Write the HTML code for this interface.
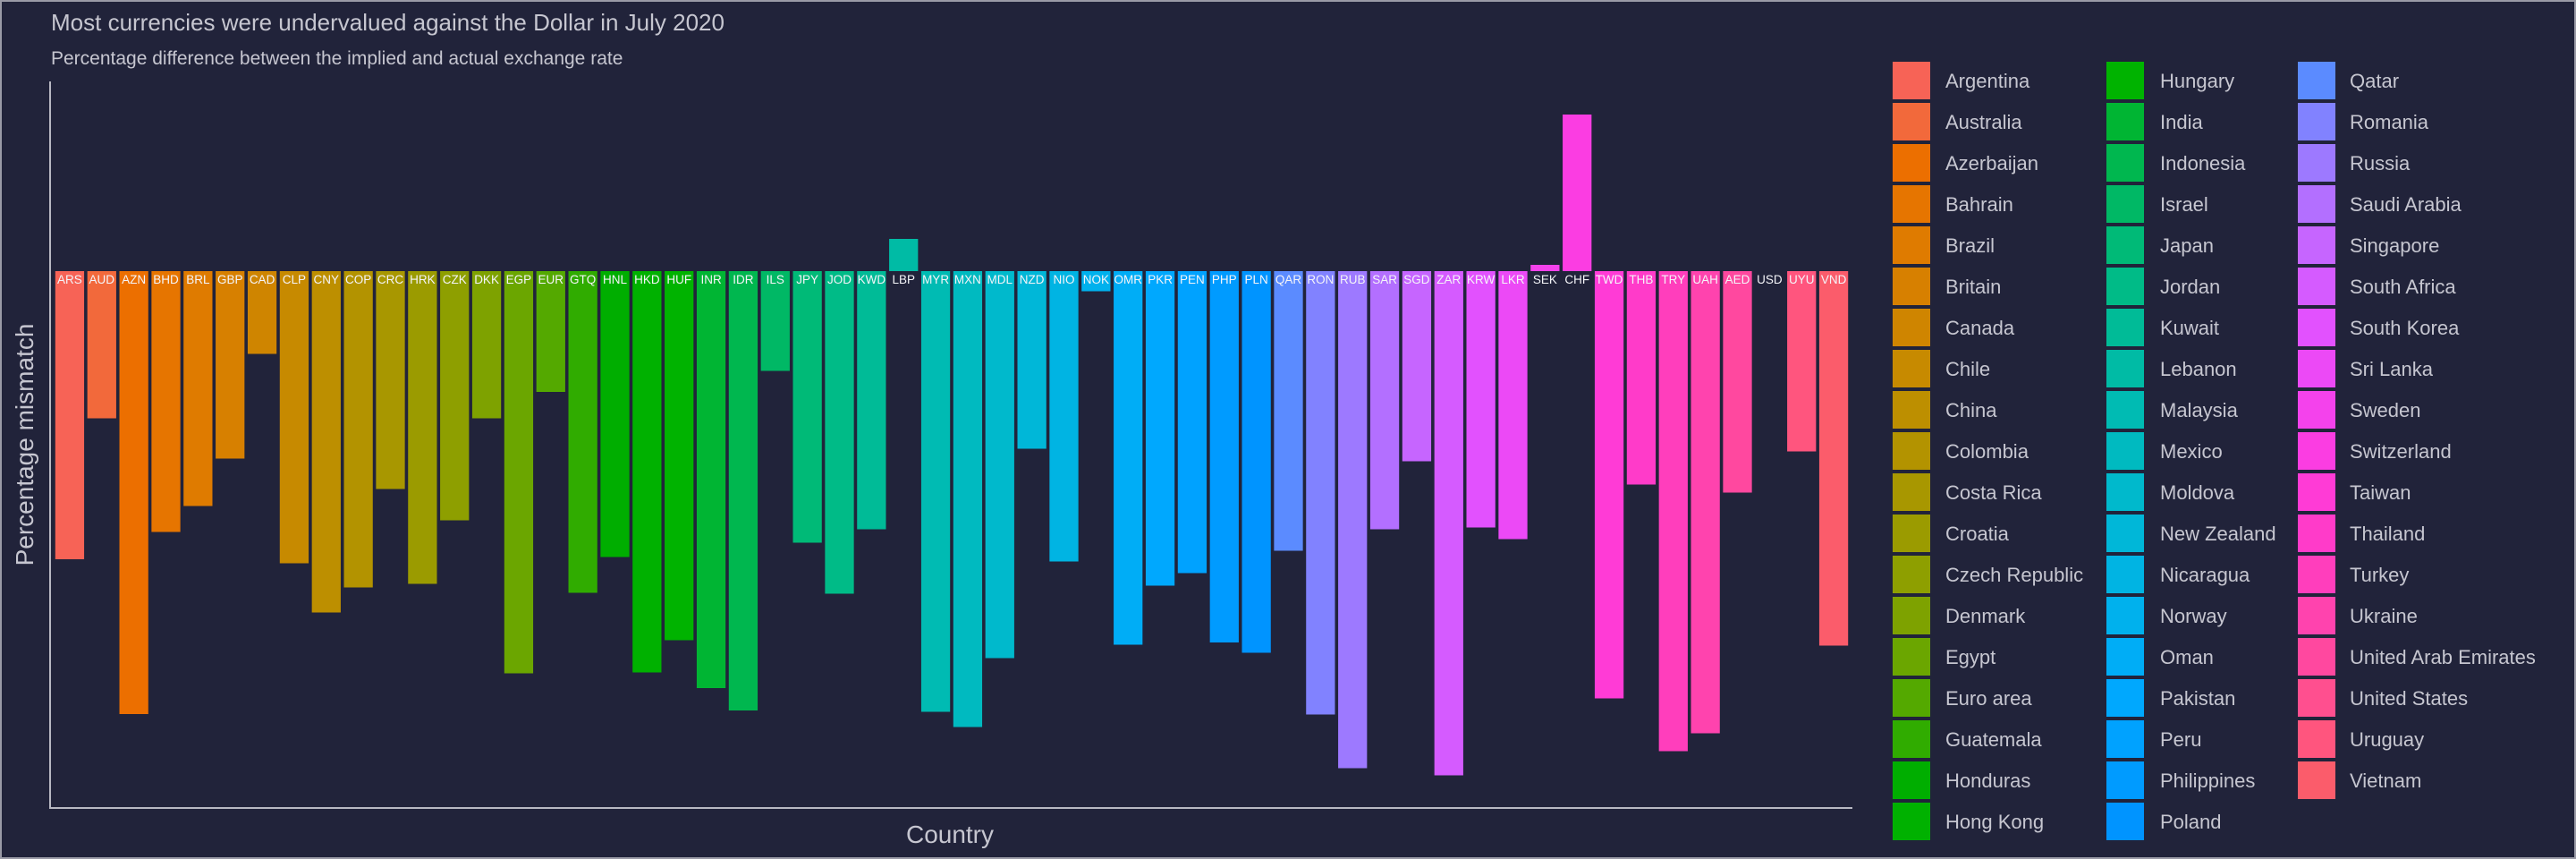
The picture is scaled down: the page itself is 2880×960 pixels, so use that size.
<!DOCTYPE html>
<html><head><meta charset="utf-8"><style>
html,body{margin:0;padding:0;background:#21233a;}
svg{display:block;}
text{font-family:"Liberation Sans",sans-serif;}
</style></head><body>
<svg id="chart" width="2880" height="960" xmlns="http://www.w3.org/2000/svg">
<rect x="0" y="0" width="2880" height="960" fill="#21233a"/>
<rect x="1" y="1" width="2878" height="958" fill="none" stroke="#9a9aa6" stroke-width="2"/>
<text x="57" y="34" font-size="26" fill="#c6c6d0">Most currencies were undervalued against the Dollar in July 2020</text>
<text x="57" y="72" font-size="21" fill="#c6c6d0">Percentage difference between the implied and actual exchange rate</text>
<g id="bars"></g>
<g id="labels"></g>
<line x1="56" y1="91" x2="56" y2="904" stroke="#b8b8c2" stroke-width="2"/>
<line x1="55" y1="903" x2="2071" y2="903" stroke="#b8b8c2" stroke-width="2"/>
<text x="1062" y="942" font-size="28" fill="#c6c6d0" text-anchor="middle">Country</text>
<text transform="translate(37,497) rotate(-90)" font-size="28" fill="#c6c6d0" text-anchor="middle">Percentage mismatch</text>
<g id="legend"></g>
</svg>
<script>
const codes = ["ARS","AUD","AZN","BHD","BRL","GBP","CAD","CLP","CNY","COP","CRC","HRK","CZK","DKK","EGP","EUR","GTQ","HNL","HKD","HUF","INR","IDR","ILS","JPY","JOD","KWD","LBP","MYR","MXN","MDL","NZD","NIO","NOK","OMR","PKR","PEN","PHP","PLN","QAR","RON","RUB","SAR","SGD","ZAR","KRW","LKR","SEK","CHF","TWD","THB","TRY","UAH","AED","USD","UYU","VND"];
const countries = ["Argentina","Australia","Azerbaijan","Bahrain","Brazil","Britain","Canada","Chile","China","Colombia","Costa Rica","Croatia","Czech Republic","Denmark","Egypt","Euro area","Guatemala","Honduras","Hong Kong","Hungary","India","Indonesia","Israel","Japan","Jordan","Kuwait","Lebanon","Malaysia","Mexico","Moldova","New Zealand","Nicaragua","Norway","Oman","Pakistan","Peru","Philippines","Poland","Qatar","Romania","Russia","Saudi Arabia","Singapore","South Africa","South Korea","Sri Lanka","Sweden","Switzerland","Taiwan","Thailand","Turkey","Ukraine","United Arab Emirates","United States","Uruguay","Vietnam"];
const mismatch = [-64.4,-32.9,-99,-58.3,-52.5,-41.9,-18.5,-65.3,-76.3,-70.7,-48.7,-69.9,-55.7,-32.9,-89.9,-27,-71.9,-63.9,-89.7,-82.5,-93.2,-98.2,-22.3,-60.7,-72.1,-57.7,7.2,-98.5,-101.9,-86.5,-39.7,-64.9,-4.5,-83.5,-70.3,-67.5,-83,-85.3,-62.5,-99.1,-111.1,-57.7,-42.5,-112.7,-57.3,-59.9,1.4,35,-95.5,-47.7,-107.3,-103.3,-49.5,0,-40.3,-83.7];
const yDomain = [-120, 42.4];

const NS = "http://www.w3.org/2000/svg";
const plotL = 60, plotR = 2068, plotT = 91, plotB = 903;
const n = codes.length;
const band = (plotR - plotL) / n;
function x(i){ return plotL + i*band; }
function y(v){ return plotB - (v - yDomain[0])/(yDomain[1]-yDomain[0])*(plotB-plotT); }

function hcl(h, c, l){
  const hr = h*Math.PI/180, u = c*Math.cos(hr), v = c*Math.sin(hr);
  const Xn=95.047,Yn=100,Zn=108.883;
  const Y = Yn*Math.pow((l+16)/116,3);
  const d = Xn+15*Yn+3*Zn, un=4*Xn/d, vn=9*Yn/d;
  const up=u/(13*l)+un, vp=v/(13*l)+vn;
  const X=Y*9*up/(4*vp), Z=Y*(12-3*up-20*vp)/(4*vp);
  const xr=X/100, yr=Y/100, zr=Z/100;
  let r= 3.2406*xr-1.5372*yr-0.4986*zr;
  let g=-0.9689*xr+1.8758*yr+0.0415*zr;
  let b= 0.0557*xr-0.2040*yr+1.0570*zr;
  const gm=t=>{t=t<=0.0031308?12.92*t:1.055*Math.pow(t,1/2.4)-0.055;return Math.round(Math.max(0,Math.min(1,t))*255);};
  return "rgb("+gm(r)+","+gm(g)+","+gm(b)+")";
}
const colors = codes.map((c,i)=>hcl(15+360*i/n, 118, 61));

const gB = document.getElementById("bars"), gL = document.getElementById("labels");
const y0 = y(0);
codes.forEach((c,i)=>{
  const v = mismatch[i];
  const r = document.createElementNS(NS,"rect");
  const top = Math.min(y(v), y0), h = Math.abs(y(v)-y0);
  r.setAttribute("x", x(i)+band*0.05);
  r.setAttribute("y", top);
  r.setAttribute("width", band*0.9);
  r.setAttribute("height", h);
  r.setAttribute("fill", colors[i]);
  
  
  gB.appendChild(r);
  const t = document.createElementNS(NS,"text");
  t.setAttribute("x", x(i)+band/2);
  t.setAttribute("y", y0+14);
  t.setAttribute("font-size","13.5");
  t.setAttribute("fill","#f4f4f8");
  t.setAttribute("text-anchor","middle");
  t.textContent = c;
  
  
  gL.appendChild(t);
});

const gLeg = document.getElementById("legend");
const colSw = [2116, 2355, 2569], colTx = [2175, 2415, 2627];
countries.forEach((name,i)=>{
  const col = Math.floor(i/19), row = i%19;
  const yy = 69 + row*46;
  const g = document.createElementNS(NS,"g");
  
  
  const s = document.createElementNS(NS,"rect");
  s.setAttribute("x", colSw[col]); s.setAttribute("y", yy);
  s.setAttribute("width", 42); s.setAttribute("height", 42);
  s.setAttribute("fill", colors[i]);
  
  
  const t = document.createElementNS(NS,"text");
  t.setAttribute("x", colTx[col]); t.setAttribute("y", yy+29);
  t.setAttribute("font-size","22"); t.setAttribute("fill","#c6c6d0");
  t.textContent = name;
  
  
  g.appendChild(s); g.appendChild(t); gLeg.appendChild(g);
});
</script>
</body></html>
